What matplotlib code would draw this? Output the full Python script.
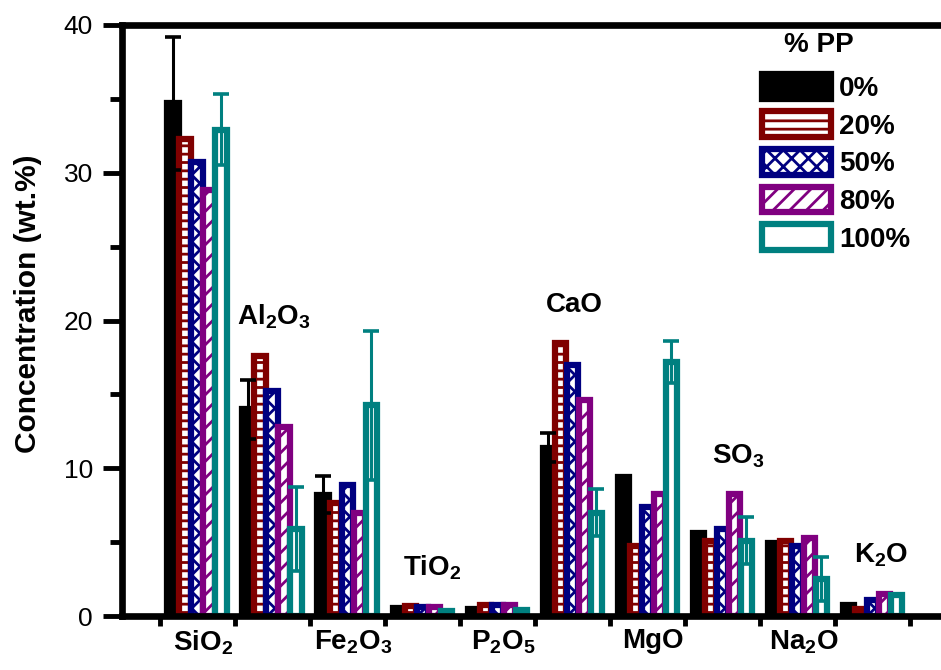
import numpy as np
import matplotlib
matplotlib.use('Agg')
import matplotlib.pyplot as plt
from matplotlib.ticker import MultipleLocator

plt.rcParams['font.family'] = ['Liberation Sans', 'DejaVu Sans']
plt.rcParams['mathtext.default'] = 'regular'
plt.rcParams['hatch.linewidth'] = 2.0

# oxide groups (even ones labelled under the axis, odd ones above the bars)
oxides = ['SiO$_2$', 'Al$_2$O$_3$', 'Fe$_2$O$_3$', 'TiO$_2$', 'P$_2$O$_5$',
          'CaO', 'MgO', 'SO$_3$', 'Na$_2$O', 'K$_2$O']
pp_levels = ['0%', '20%', '50%', '80%', '100%']

pp0 = [34.7, 14.0, 8.2, 0.55, 0.5, 11.4, 9.4, 5.6, 4.95, 0.75]
pp20 = [32.3, 17.6, 7.65, 0.65, 0.75, 18.5, 4.75, 5.05, 5.1, 0.5]
pp50 = [30.7, 15.2, 8.85, 0.6, 0.75, 17.0, 7.35, 5.9, 4.75, 1.1]
pp80 = [28.8, 12.8, 6.95, 0.6, 0.75, 14.6, 8.25, 8.25, 5.3, 1.5]
pp100 = [32.9, 5.9, 14.25, 0.35, 0.4, 7.0, 17.2, 5.1, 2.5, 1.4]

err0 = [4.5, 2.0, 1.25, 0, 0, 1.0, 0, 0, 0, 0]
err100 = [2.4, 2.85, 5.05, 0, 0, 1.6, 1.4, 1.6, 1.5, 0]

series = [pp0, pp20, pp50, pp80, pp100]
styles = [dict(facecolor='black', edgecolor='black', hatch=None),
          dict(facecolor='white', edgecolor='#800000', hatch='--'),
          dict(facecolor='white', edgecolor='#000080', hatch='xx'),
          dict(facecolor='white', edgecolor='#800080', hatch='//'),
          dict(facecolor='white', edgecolor='#008080', hatch=None)]

fig = plt.figure(figsize=(9.41, 6.70), dpi=100)
ax = fig.add_axes([122 / 941, 54 / 670, 825.5 / 941, 591 / 670])

x = np.arange(len(oxides))
step = 0.16
width = 0.15

for k, (vals, st, lab) in enumerate(zip(series, styles, pp_levels)):
    ax.bar(x + (k - 2) * step, vals, width, label=lab, linewidth=4.5, zorder=1 + k * 0.1, **st)

for vals, err, col, k in [(pp0, err0, 'black', 0), (pp100, err100, '#008080', 4)]:
    m = np.array(err) > 0
    ax.errorbar((x + (k - 2) * step)[m], np.array(vals)[m], yerr=np.array(err)[m],
                fmt='none', ecolor=col, elinewidth=2.2, capsize=6, capthick=2.6, zorder=3)

# labels above the odd groups
nudge = {1: 0.02, 3: 0.13, 5: 0.03, 7: 0.21, 9: 0.12}
for i in range(1, len(oxides), 2):
    top = max(s[i] for s in series)
    ax.text(x[i] + nudge[i], top + 2.1, oxides[i], ha='center', va='baseline',
            fontsize=20, fontweight='bold')

ax.set_xlim(-1, 10)
ax.set_ylim(0, 40)
ax.set_xticks(np.arange(-0.5, 10, 1))
ax.set_xticklabels([])
ax.set_xticks(x[::2] + 0.08, labels=oxides[::2], minor=True)
for t in ax.get_xticklabels(minor=True):
    t.set_fontweight('bold')
ax.tick_params(axis='x', which='major', direction='out', length=7, width=3.5)
ax.tick_params(axis='x', which='minor', length=0, pad=9, labelsize=20)

ax.set_yticks([0, 10, 20, 30, 40])
ax.yaxis.set_minor_locator(MultipleLocator(5))
ax.tick_params(axis='y', which='major', direction='out', length=14, width=3.5, labelsize=19, pad=7)
ax.tick_params(axis='y', which='minor', direction='out', length=8.5, width=3.5)

ax.set_ylabel('Concentration (wt.%)', fontsize=21.5, fontweight='bold')
ax.yaxis.set_label_coords(-0.097, 0.529)

ax.spines['right'].set_visible(False)
for s in ['left', 'bottom', 'top']:
    ax.spines[s].set_linewidth(4.8)

fig.text(819 / 941, 1 - 45 / 670, '% PP', ha='center', va='center',
         fontsize=20, fontweight='bold')
ax.legend(loc='upper right', bbox_to_anchor=(916 / 941, 1 - 68 / 670),
          bbox_transform=fig.transFigure, frameon=False,
          prop=dict(weight='bold', size=20),
          handlelength=2.5, handleheight=1.05, labelspacing=0.335,
          handletextpad=0.3, borderpad=0.2, borderaxespad=0)

fig.savefig('out.png', dpi=100)
